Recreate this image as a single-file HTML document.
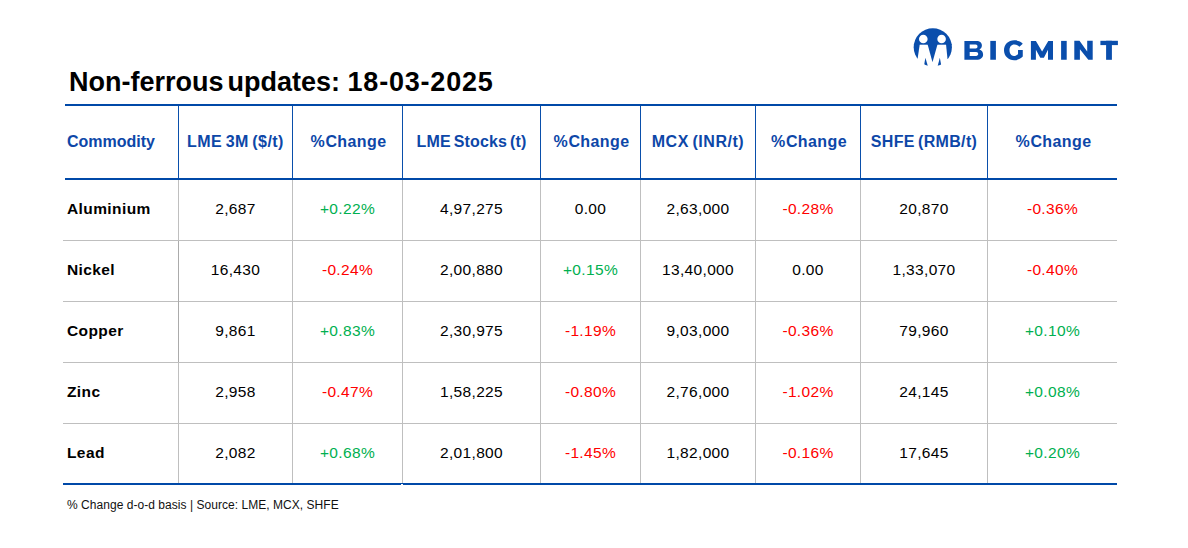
<!DOCTYPE html>
<html><head><meta charset="utf-8">
<style>
*{margin:0;padding:0;box-sizing:border-box}
html,body{width:1188px;height:548px;background:#fff;overflow:hidden}
body{position:relative;font-family:"Liberation Sans",sans-serif;color:#000}
.ln{position:absolute}
.t{position:absolute;white-space:pre;line-height:1;font-size:15.5px;text-align:center;letter-spacing:0.35px}
.h{font-weight:700;color:#0d47a8;letter-spacing:0;font-size:16px;word-spacing:-1.5px}
.c{font-weight:700;letter-spacing:0.4px;font-size:15.5px}
</style></head><body>
<div class="t" style="left:69.00px;top:69.14px;font-size:27px;font-weight:700;letter-spacing:0.00px;text-align:left">Non-ferrous</div>
<div class="t" style="left:227.50px;top:69.14px;font-size:27px;font-weight:700;letter-spacing:0.00px;text-align:left">updates:</div>
<div class="t" style="left:347.50px;top:69.14px;font-size:27px;font-weight:700;letter-spacing:0.80px;text-align:left">18-03-2025</div>
<div class="ln" style="left:65px;top:104px;width:1052px;height:2px;background:#0049a8"></div>
<div class="ln" style="left:65px;top:178px;width:1052px;height:2px;background:#0049a8"></div>
<div class="ln" style="left:63px;top:483px;width:1054px;height:2px;background:#0049a8"></div>
<div class="ln" style="left:401px;top:484px;width:2px;height:1px;background:#fff"></div>
<div class="ln" style="left:63px;top:240px;width:1054px;height:1px;background:#bfbfbf"></div>
<div class="ln" style="left:63px;top:301px;width:1054px;height:1px;background:#bfbfbf"></div>
<div class="ln" style="left:63px;top:362px;width:1054px;height:1px;background:#bfbfbf"></div>
<div class="ln" style="left:63px;top:423px;width:1054px;height:1px;background:#bfbfbf"></div>
<div class="ln" style="left:178px;top:106px;width:1px;height:72px;background:#0a4fab"></div>
<div class="ln" style="left:178px;top:180px;width:1px;height:303px;background:#bfbfbf"></div>
<div class="ln" style="left:292px;top:106px;width:1px;height:72px;background:#0a4fab"></div>
<div class="ln" style="left:292px;top:180px;width:1px;height:303px;background:#bfbfbf"></div>
<div class="ln" style="left:402px;top:106px;width:1px;height:72px;background:#0a4fab"></div>
<div class="ln" style="left:402px;top:180px;width:1px;height:303px;background:#bfbfbf"></div>
<div class="ln" style="left:540px;top:106px;width:1px;height:72px;background:#0a4fab"></div>
<div class="ln" style="left:540px;top:180px;width:1px;height:303px;background:#bfbfbf"></div>
<div class="ln" style="left:640px;top:106px;width:1px;height:72px;background:#0a4fab"></div>
<div class="ln" style="left:640px;top:180px;width:1px;height:303px;background:#bfbfbf"></div>
<div class="ln" style="left:755px;top:106px;width:1px;height:72px;background:#0a4fab"></div>
<div class="ln" style="left:755px;top:180px;width:1px;height:303px;background:#bfbfbf"></div>
<div class="ln" style="left:860px;top:106px;width:1px;height:72px;background:#0a4fab"></div>
<div class="ln" style="left:860px;top:180px;width:1px;height:303px;background:#bfbfbf"></div>
<div class="ln" style="left:987px;top:106px;width:1px;height:72px;background:#0a4fab"></div>
<div class="ln" style="left:987px;top:180px;width:1px;height:303px;background:#bfbfbf"></div>
<div class="ln" style="left:178px;top:241px;width:1px;height:121px;background:#ababab"></div>
<div class="t h" style="left:67px;top:134.46px;text-align:left">Commodity</div>
<div class="t h" style="left:179px;top:134.46px;width:113px;letter-spacing:0.47px">LME 3M ($/t)</div>
<div class="t h" style="left:294px;top:134.46px;width:109px;letter-spacing:0.00px"><span style="letter-spacing:0.6px">%</span><span style="letter-spacing:0.4px">Change</span></div>
<div class="t h" style="left:403px;top:134.46px;width:137px;letter-spacing:0.13px">LME Stocks (t)</div>
<div class="t h" style="left:542px;top:134.46px;width:99px;letter-spacing:0.00px"><span style="letter-spacing:0.6px">%</span><span style="letter-spacing:0.4px">Change</span></div>
<div class="t h" style="left:641px;top:134.46px;width:114px;letter-spacing:0.55px">MCX (INR/t)</div>
<div class="t h" style="left:757px;top:134.46px;width:104px;letter-spacing:0.00px"><span style="letter-spacing:0.6px">%</span><span style="letter-spacing:0.4px">Change</span></div>
<div class="t h" style="left:861px;top:134.46px;width:126px;letter-spacing:0.33px">SHFE (RMB/t)</div>
<div class="t h" style="left:989px;top:134.46px;width:129px;letter-spacing:0.00px"><span style="letter-spacing:0.6px">%</span><span style="letter-spacing:0.4px">Change</span></div>
<div class="t c" style="left:67px;top:200.88px;text-align:left">Aluminium</div>
<div class="t" style="left:179px;top:200.88px;width:113px;color:#000">2,687</div>
<div class="t" style="left:293px;top:200.88px;width:109px;color:#00b050">+0.22%</div>
<div class="t" style="left:403px;top:200.88px;width:137px;color:#000">4,97,275</div>
<div class="t" style="left:541px;top:200.88px;width:99px;color:#000">0.00</div>
<div class="t" style="left:641px;top:200.88px;width:114px;color:#000">2,63,000</div>
<div class="t" style="left:756px;top:200.88px;width:104px;color:#ff0000">-0.28%</div>
<div class="t" style="left:861px;top:200.88px;width:126px;color:#000">20,870</div>
<div class="t" style="left:988px;top:200.88px;width:129px;color:#ff0000">-0.36%</div>
<div class="t c" style="left:67px;top:261.88px;text-align:left">Nickel</div>
<div class="t" style="left:179px;top:261.88px;width:113px;color:#000">16,430</div>
<div class="t" style="left:293px;top:261.88px;width:109px;color:#ff0000">-0.24%</div>
<div class="t" style="left:403px;top:261.88px;width:137px;color:#000">2,00,880</div>
<div class="t" style="left:541px;top:261.88px;width:99px;color:#00b050">+0.15%</div>
<div class="t" style="left:641px;top:261.88px;width:114px;color:#000">13,40,000</div>
<div class="t" style="left:756px;top:261.88px;width:104px;color:#000">0.00</div>
<div class="t" style="left:861px;top:261.88px;width:126px;color:#000">1,33,070</div>
<div class="t" style="left:988px;top:261.88px;width:129px;color:#ff0000">-0.40%</div>
<div class="t c" style="left:67px;top:322.88px;text-align:left">Copper</div>
<div class="t" style="left:179px;top:322.88px;width:113px;color:#000">9,861</div>
<div class="t" style="left:293px;top:322.88px;width:109px;color:#00b050">+0.83%</div>
<div class="t" style="left:403px;top:322.88px;width:137px;color:#000">2,30,975</div>
<div class="t" style="left:541px;top:322.88px;width:99px;color:#ff0000">-1.19%</div>
<div class="t" style="left:641px;top:322.88px;width:114px;color:#000">9,03,000</div>
<div class="t" style="left:756px;top:322.88px;width:104px;color:#ff0000">-0.36%</div>
<div class="t" style="left:861px;top:322.88px;width:126px;color:#000">79,960</div>
<div class="t" style="left:988px;top:322.88px;width:129px;color:#00b050">+0.10%</div>
<div class="t c" style="left:67px;top:383.88px;text-align:left">Zinc</div>
<div class="t" style="left:179px;top:383.88px;width:113px;color:#000">2,958</div>
<div class="t" style="left:293px;top:383.88px;width:109px;color:#ff0000">-0.47%</div>
<div class="t" style="left:403px;top:383.88px;width:137px;color:#000">1,58,225</div>
<div class="t" style="left:541px;top:383.88px;width:99px;color:#ff0000">-0.80%</div>
<div class="t" style="left:641px;top:383.88px;width:114px;color:#000">2,76,000</div>
<div class="t" style="left:756px;top:383.88px;width:104px;color:#ff0000">-1.02%</div>
<div class="t" style="left:861px;top:383.88px;width:126px;color:#000">24,145</div>
<div class="t" style="left:988px;top:383.88px;width:129px;color:#00b050">+0.08%</div>
<div class="t c" style="left:67px;top:444.88px;text-align:left">Lead</div>
<div class="t" style="left:179px;top:444.88px;width:113px;color:#000">2,082</div>
<div class="t" style="left:293px;top:444.88px;width:109px;color:#00b050">+0.68%</div>
<div class="t" style="left:403px;top:444.88px;width:137px;color:#000">2,01,800</div>
<div class="t" style="left:541px;top:444.88px;width:99px;color:#ff0000">-1.45%</div>
<div class="t" style="left:641px;top:444.88px;width:114px;color:#000">1,82,000</div>
<div class="t" style="left:756px;top:444.88px;width:104px;color:#ff0000">-0.16%</div>
<div class="t" style="left:861px;top:444.88px;width:126px;color:#000">17,645</div>
<div class="t" style="left:988px;top:444.88px;width:129px;color:#00b050">+0.20%</div>
<div class="t" style="left:67px;top:499.34px;font-size:12px;letter-spacing:0.04px;text-align:left;color:#111">% Change d-o-d basis | Source: LME, MCX, SHFE</div>
<svg style="position:absolute;left:0;top:0" width="1188" height="100" viewBox="0 0 1188 100">
<defs><clipPath id="cc"><circle cx="932.8" cy="47.3" r="19.1"/></clipPath>
<clipPath id="gc"><rect x="1000" y="35" width="22.9" height="30"/></clipPath></defs>
<g clip-path="url(#cc)" fill="#0a4eac">
<rect x="910" y="25" width="46" height="19.7"/>
<polygon points="905,44 919.8,44 917.6,58.8 905,58.8"/>
<polygon points="927.5,44 937.6,44 932.5,62.2"/>
<polygon points="946,44 960,44 960,59.1 947.5,59.1"/>
<polygon points="925.4,57.8 923.6,68 928.4,68"/>
<polygon points="939.8,57.8 937.2,68 941.8,68"/>
</g>
<circle cx="923.3" cy="39" r="4.3" fill="#fff"/>
<circle cx="941.6" cy="39" r="4.3" fill="#fff"/>
<g fill="#0a4eac">
<path fill-rule="evenodd" d="M964.4,40.9 H976.3 C980.2,40.9 981.9,43 981.9,45.2 C981.9,47.3 980.9,48.7 979.4,49.5 C981.7,50.2 983.1,52 983.1,54.5 C983.1,57.8 980.6,59.75 976.4,59.75 H964.4 Z M969.7,44.6 H975.6 C976.9,44.6 977.5,45.5 977.5,46.6 C977.5,47.7 976.9,48.6 975.6,48.6 H969.7 Z M969.7,52.1 H976.1 C977.5,52.1 978.2,53 978.2,54 C978.2,55.1 977.5,55.9 976.1,55.9 H969.7 Z"/>
<rect x="990.3" y="40.9" width="5.6" height="18.85"/>
<path d="M1022.77,43.64 C1020.9,41.5 1017.9,40.3 1014.2,40.3 C1008.3,40.3 1004,44.6 1004,50.3 C1004,56 1008.3,60.25 1014.2,60.25 C1017.6,60.25 1020.6,59 1022.77,56.6 V49.9 H1018.03 V53.9 C1016.9,55.2 1015.5,55.95 1013.8,55.95 C1011.3,55.95 1009.5,53.6 1009.5,50.3 C1009.5,46.9 1011.4,44.6 1014.2,44.6 C1016.3,44.6 1018.2,45.5 1019.45,46.72 Z"/>
<polygon points="1030.9,59.75 1030.9,40.9 1035.9,40.9 1042.1,51.5 1048.3,40.9 1053,40.9 1053,59.75 1048,59.75 1048,49.7 1043.9,57.7 1040.3,57.7 1035.9,49.7 1035.9,59.75"/>
<rect x="1061.1" y="40.9" width="5.6" height="18.85"/>
<polygon points="1074.3,59.8 1074.3,40.8 1079.5,40.8 1087.2,51.6 1087.2,40.8 1092.7,40.8 1092.7,59.8 1088.3,59.8 1079.9,49.3 1079.9,59.8"/>
<rect x="1100.4" y="40.8" width="17.5" height="4.3"/>
<rect x="1106.1" y="40.8" width="5.8" height="19"/>
</g>
</svg>
</body></html>
